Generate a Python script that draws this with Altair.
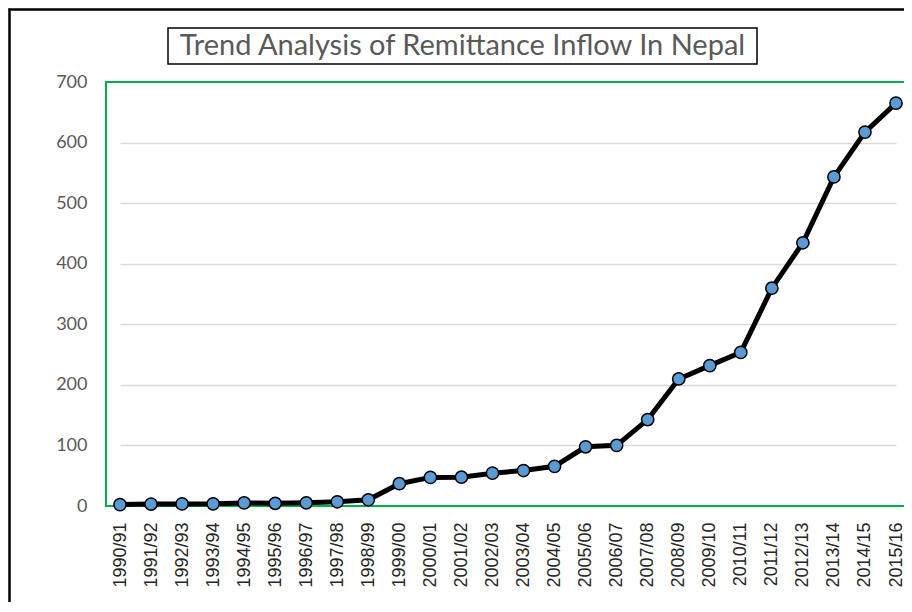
import altair as alt
import pandas as pd

years = ["1990/91", "1991/92", "1992/93", "1993/94", "1994/95", "1995/96", "1996/97",
         "1997/98", "1998/99", "1999/00", "2000/01", "2001/02", "2002/03", "2003/04",
         "2004/05", "2005/06", "2006/07", "2007/08", "2008/09", "2009/10", "2010/11",
         "2011/12", "2012/13", "2013/14", "2014/15", "2015/16"]
remittance = [2.3, 3.2, 3.5, 3.6, 5.1, 4.5, 5.3, 7.0, 10.3, 36.8, 47.2, 47.5, 54.2, 58.6,
              65.5, 97.7, 100.1, 142.7, 209.7, 231.7, 253.6, 359.6, 434.6, 543.3, 617.3, 665.1]
title_text = "Trend Analysis of Remittance Inflow In Nepal"
y_ticks = [0, 100, 200, 300, 400, 500, 600, 700]

W, H = 798, 424
PAD_L, PAD_T, PAD_B = 98, 74, 96

df = pd.DataFrame({"year": years, "value": remittance})
one = pd.DataFrame({"t": [title_text]})

x_enc = alt.X("year:O", sort=years, title=None,
              scale=alt.Scale(type="point", padding=0, range=[14, 790]),
              axis=alt.Axis(labelAngle=-90, labelFont="Liberation Sans", labelFontSize=18,
                            labelColor="#262626", labelPadding=16, ticks=False, domain=False,
                            grid=False))
y_enc = alt.Y("value:Q", title=None,
              scale=alt.Scale(domain=[0, 700], nice=False),
              axis=alt.Axis(values=y_ticks, labelFont="Lato", labelFontSize=18,
                            labelColor="#595959", labelPadding=19, ticks=False, domain=False,
                            grid=True, gridColor="#d9d9d9", gridWidth=1.5))

# outer chart frame (only left and top edges are visible in the reference)
frame_top = alt.Chart(one).mark_rule(color="black", strokeWidth=2.5).encode(
    x=alt.value(-PAD_L + 0.5), x2=alt.value(W), y=alt.value(-PAD_T + 1.5))
frame_left = alt.Chart(one).mark_rule(color="black", strokeWidth=2.5).encode(
    x=alt.value(-PAD_L + 1.5), y=alt.value(-PAD_T + 0.5), y2=alt.value(H + PAD_B))

# green plot-area border (top, left, bottom)
g_top = alt.Chart(one).mark_rule(color="#00B050", strokeWidth=2).encode(
    x=alt.value(0), x2=alt.value(W), y=alt.value(0))
g_bottom = alt.Chart(one).mark_rule(color="#00B050", strokeWidth=2).encode(
    x=alt.value(0), x2=alt.value(W), y=alt.value(H))
g_left = alt.Chart(one).mark_rule(color="#00B050", strokeWidth=2).encode(
    x=alt.value(0), y=alt.value(-1), y2=alt.value(H + 1))

title_box = alt.Chart(one).mark_rect(fill="white", stroke="black", strokeWidth=1.5).encode(
    x=alt.value(62), x2=alt.value(651), y=alt.value(-54), y2=alt.value(-18))

title_mark = alt.Chart(one).mark_text(font="Lato", fontSize=29, color="#595959",
                                      align="center", baseline="middle").encode(
    x=alt.value(356.5), y=alt.value(-36), text="t:N")

line = alt.Chart(df).mark_line(color="black", strokeWidth=5).encode(x=x_enc, y=y_enc)
points = alt.Chart(df).mark_point(shape="circle", filled=True, fill="#5B9BD5", stroke="black",
                                  strokeWidth=1.5, size=150, opacity=1).encode(x=x_enc, y=y_enc)

chart = alt.layer(frame_top, frame_left, g_top, g_bottom, g_left, title_box, title_mark,
                  line, points).properties(
    width=W, height=H,
    autosize=alt.AutoSizeParams(type="none"),
    padding={"left": PAD_L, "top": PAD_T, "right": 0, "bottom": PAD_B},
    background="white",
).configure_view(stroke=None)

chart.save("out.html", embed_options={"renderer": "svg", "actions": False})
